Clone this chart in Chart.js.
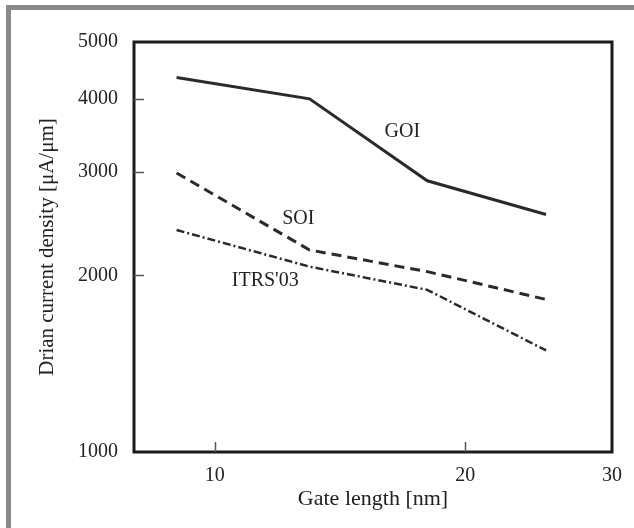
<!DOCTYPE html>
<html>
<head>
<meta charset="utf-8">
<script src="https://cdn.jsdelivr.net/npm/chart.js@4.4.0/dist/chart.umd.min.js"></script>
<style>
    html, body { margin: 0; padding: 0; background: #fff; }
    #wrap { position: relative; width: 634px; height: 528px; overflow: hidden; }
    #frameTop { position: absolute; left: 6px; top: 5px; width: 640px; height: 5px; background: #8a8a8a; }
    #frameLeft { position: absolute; left: 6px; top: 5px; width: 5px; height: 530px; background: #8a8a8a; }
    canvas { position: absolute; left: 0; top: 0; }
</style>
</head>
<body>
<div id="wrap">
    <canvas id="chart" width="634" height="528"></canvas>
    <div id="frameTop"></div>
    <div id="frameLeft"></div>
</div>
<script>
// gate length in nm (x axis, log)
const gateLength = [9, 13, 18, 25];
// drain current density in uA/um (y axis, log)
const goiValues = [4350, 4000, 2900, 2540];
const soiValues = [2990, 2210, 2030, 1820];
const itrsValues = [2390, 2070, 1890, 1490];

const xTicks = [10, 20, 30];
const yTicks = [1000, 2000, 3000, 4000, 5000];

const seriesNames = ["GOI", "SOI", "ITRS'03"];
// where each name sits, in data units
const labelX = [16.8, 12.6, 11.5];
const labelY = [3520, 2500, 1960];

const xTitle = "Gate length [nm]";
const yTitle = "Drian current density [\u03BCA/\u03BCm]";

const serif = "'Liberation Serif', 'Times New Roman', serif";
const ink = '#2a2a2a';

function toPoints(values) {
    return values.map((v, i) => ({x: gateLength[i], y: v}));
}

// box frame, inward ticks and the series names
const decorations = {
    id: 'decorations',
    afterDraw(chart) {
        const ctx = chart.ctx;
        const area = chart.chartArea;
        const xs = chart.scales.x;
        const ys = chart.scales.y;
        ctx.save();

        ctx.strokeStyle = '#1a1a1a';
        ctx.lineWidth = 3;
        ctx.strokeRect(area.left, area.top, area.right - area.left, area.bottom - area.top);

        ctx.lineWidth = 1.5;
        ctx.strokeStyle = '#555';
        ctx.beginPath();
        [10, 20].forEach(v => {
            const px = Math.round(xs.getPixelForValue(v)) + 0.5;
            ctx.moveTo(px, area.bottom);
            ctx.lineTo(px, area.bottom - 10);
        });
        [2000, 3000, 4000].forEach(v => {
            const py = Math.round(ys.getPixelForValue(v)) + 0.5;
            ctx.moveTo(area.left, py);
            ctx.lineTo(area.left + 10, py);
        });
        ctx.stroke();

        ctx.fillStyle = '#222';
        ctx.font = '20px ' + serif;
        ctx.textAlign = 'center';
        ctx.textBaseline = 'middle';
        seriesNames.forEach((name, i) => {
            ctx.fillText(name, xs.getPixelForValue(labelX[i]), ys.getPixelForValue(labelY[i]));
        });
        ctx.restore();
    }
};

const ctx = document.getElementById('chart').getContext('2d');

new Chart(ctx, {
    type: 'line',
    data: {
        datasets: [
            {
                label: seriesNames[0],
                data: toPoints(goiValues),
                borderColor: ink,
                borderWidth: 3,
                pointRadius: 0,
                tension: 0
            },
            {
                label: seriesNames[1],
                data: toPoints(soiValues),
                borderColor: ink,
                borderWidth: 3,
                borderDash: [10, 6],
                pointRadius: 0,
                tension: 0
            },
            {
                label: seriesNames[2],
                data: toPoints(itrsValues),
                borderColor: ink,
                borderWidth: 2.5,
                borderDash: [8, 3, 2, 3],
                pointRadius: 0,
                tension: 0
            }
        ]
    },
    options: {
        responsive: false,
        animation: false,
        layout: {
            padding: {left: 0, top: 42, right: 21, bottom: 0}
        },
        plugins: {
            legend: {display: false},
            tooltip: {enabled: false}
        },
        scales: {
            x: {
                type: 'logarithmic',
                min: 8,
                max: 30,
                afterBuildTicks: scale => {
                    scale.ticks = xTicks.map(v => ({value: v}));
                },
                afterFit: scale => {
                    scale.height = 76;
                },
                grid: {display: false, drawTicks: false},
                border: {display: false},
                ticks: {
                    padding: 12,
                    color: '#222',
                    font: {family: serif, size: 20},
                    callback: v => String(v)
                },
                title: {
                    display: true,
                    text: xTitle,
                    color: '#222',
                    font: {family: serif, size: 22},
                    padding: {top: 0, bottom: 16}
                }
            },
            y: {
                type: 'logarithmic',
                min: 1000,
                max: 5000,
                afterBuildTicks: scale => {
                    scale.ticks = yTicks.map(v => ({value: v}));
                },
                afterFit: scale => {
                    scale.width = 134;
                },
                grid: {display: false, drawTicks: false},
                border: {display: false},
                ticks: {
                    padding: 16,
                    color: '#222',
                    font: {family: serif, size: 20},
                    callback: v => String(v)
                },
                title: {
                    display: true,
                    text: yTitle,
                    color: '#222',
                    font: {family: serif, size: 21},
                    padding: {top: 35, bottom: 0}
                }
            }
        }
    },
    plugins: [decorations]
});
</script>
</body>
</html>
